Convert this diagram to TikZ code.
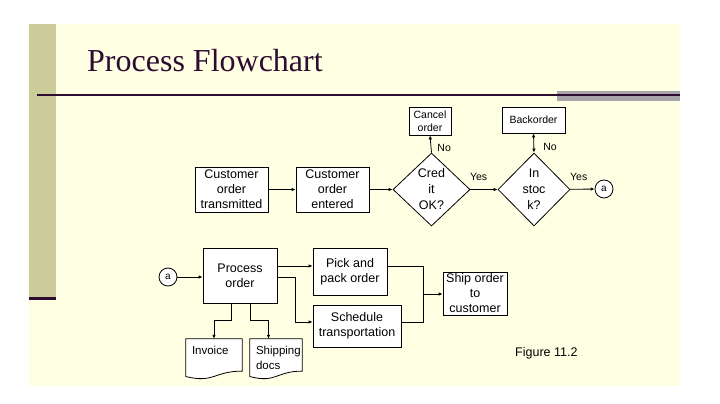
\documentclass[tikz,border=0pt]{standalone}
\usepackage{fontspec}
\setmainfont{Liberation Sans}
\newfontfamily\titlefont{Liberation Serif}
\usetikzlibrary{shapes.geometric,arrows.meta,calc}

\definecolor{slidebg}{HTML}{FFFFE3}
\definecolor{barolive}{HTML}{CCCB9A}
\definecolor{bargray}{HTML}{A8A5AA}
\definecolor{titleplum}{HTML}{2E0B30}

\tikzset{
	box/.style={draw=black, fill=white, line width=0.8pt, inner sep=0pt, align=center, font=\fontsize{12.5}{15}\selectfont},
	smallbox/.style={box, font=\fontsize{10.5}{13}\selectfont},
	decision/.style={diamond, draw=black, fill=white, line width=0.8pt, inner sep=0pt, align=center, font=\fontsize{12.5}{16}\selectfont, minimum width=77pt, minimum height=73pt},
	connector/.style={circle, draw=black, fill=white, line width=0.8pt, inner sep=0pt, minimum size=18pt, font=\fontsize{10}{11}\selectfont},
	docbox/.style={inner sep=0pt, minimum width=56pt, minimum height=40pt},
	doctext/.style={inner sep=0pt, font=\fontsize{11.5}{15}\selectfont, align=left},
	flow/.style={line width=0.8pt, -{Latex[length=4pt,width=3.5pt]}},
	twoway/.style={line width=0.8pt, {Latex[length=4pt,width=3.5pt]}-{Latex[length=4pt,width=3.5pt]}},
	link/.style={line width=0.8pt},
	tag/.style={font=\fontsize{10.5}{12}\selectfont, inner sep=1pt},
}

% paper sheet with a wavy lower edge
\newcommand{\docoutline}[1]{%
	\draw[line width=0.8pt, fill=white] (#1.north west) -- (#1.north east) -- ($(#1.north east)!0.8!(#1.south east)$)
		.. controls ($(#1.north)!0.8!(#1.south)$) and ($(#1.north)!1.107!(#1.south)$) .. ($(#1.north west)!0.934!(#1.south west)$) -- cycle;}

\begin{document}
\begin{tikzpicture}[x=1pt, y=-1pt]
	\useasboundingbox (0,0) rectangle (720,404);
	% slide
	\fill[white] (0,0) rectangle (720,404);
	\fill[slidebg] (29,24) rectangle (680,386);
	\fill[barolive] (29,24) rectangle (56,298);
	\draw[titleplum, line width=3pt] (29,298) -- (56,298);
	\fill[bargray] (557,91) rectangle (680,101);
	\draw[titleplum, line width=1.3pt] (37,95) -- (680,95);
	\node[anchor=base west, inner sep=0pt, text=titleplum, font=\titlefont\fontsize{32}{36}\selectfont] (title) at (87,71) {Process Flowchart};

	% first row
	\node[box, minimum width=73pt, minimum height=45pt] (transmitted) at (231.5,189.5) {Customer\\order\\transmitted};
	\node[box, minimum width=73pt, minimum height=45pt] (entered) at (332.5,189.5) {Customer\\order\\entered};
	\node[decision] (credit) at (431.5,189.5) {Cred\\it\\OK?};
	\node[decision, minimum width=72pt] (stock) at (534,189.5) {In\\stoc\\k?};
	\node[smallbox, minimum width=42pt, minimum height=28pt] (cancel) at (430,121) {Cancel\\order};
	\node[box, font=\fontsize{10.5}{12}\selectfont, minimum width=63pt, minimum height=26pt] (backorder) at (533.5,120) {Backorder};
	\node[connector] (jumpout) at (604,189) {a};

	\draw[flow] (transmitted) -- (entered);
	\draw[flow] (entered) -- (credit);
	\draw[flow] (credit) -- node[tag, pos=0.3, above=7pt] {Yes} (stock);
	\draw[flow] (stock) -- node[tag, pos=0.35, above=7pt] {Yes} (jumpout);
	\draw[flow] (credit.north) -- node[tag, pos=0.3, right=5pt] {No} (cancel.south);
	\draw[twoway] (stock.north) -- node[tag, pos=0.3, right=8pt] {No} (backorder.south);

	% second row
	\node[connector] (jumpin) at (168,277) {a};
	\node[box, minimum width=74pt, minimum height=55pt] (process) at (240,275.5) {Process\\order};
	\node[box, minimum width=74pt, minimum height=47pt] (pick) at (350,271.5) {Pick and\\pack order};
	\node[box, minimum width=88pt, minimum height=42pt] (schedule) at (357,326) {Schedule\\transportation};
	\node[box, minimum width=64pt, minimum height=43pt] (ship) at (475,293.5) {Ship order\\to\\customer};
	\node[docbox] (invoice) at (214,359) {};
	\node[docbox, minimum width=52pt] (shipdocs) at (276,359) {};
	\docoutline{invoice}
	\docoutline{shipdocs}
	\node[doctext, anchor=north west] (invoicetext) at ([xshift=6pt, yshift=-7pt]invoice.north west) {Invoice};
	\node[doctext, anchor=north west] (shipdocstext) at ([xshift=6pt, yshift=-7pt]shipdocs.north west) {Shipping\\docs};
	\coordinate (merge) at (423,294);

	\draw[flow] (jumpin.east) -- (process.west |- jumpin.east);
	\draw[flow] ([yshift=9.5pt]process.east) coordinate (po1) -- (pick.west |- po1);
	\draw[flow] ([yshift=-1.5pt]process.east) -- ++(18,0) |- ([yshift=4pt]schedule.west);
	\draw[link] ([yshift=5.5pt]pick.east) -| (merge);
	\draw[link] ([yshift=4pt]schedule.east) -| (merge);
	\draw[flow] (merge) -- (ship.west |- merge);
	\draw[flow] ([xshift=-9pt]process.south) -- ++(0,17) -| (invoice.north);
	\draw[flow] ([xshift=10pt]process.south) -- ++(0,17) -| ([xshift=-7.5pt]shipdocs.north);

	\node[anchor=west, inner sep=0pt, font=\fontsize{12.5}{15}\selectfont] (figcaption) at (515,353) {Figure 11.2};
\end{tikzpicture}
\end{document}
